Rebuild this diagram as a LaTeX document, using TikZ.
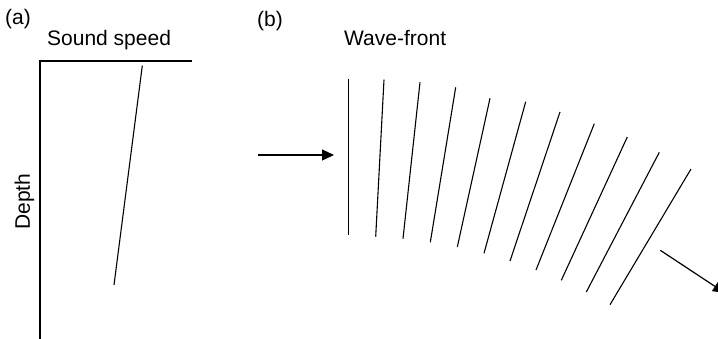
\documentclass[tikz,border=0pt]{standalone}
\usepackage{fontspec}
\setmainfont{Liberation Sans}
\usetikzlibrary{arrows.meta}
\begin{document}
\begin{tikzpicture}[x=1pt,y=-1pt,
  lbl/.style={inner sep=0pt,font=\fontsize{21}{24}\selectfont,anchor=base west},
  axisline/.style={line width=1.4pt},
  profile/.style={line width=1.1pt},
  front/.style={line width=1.1pt},
  ray/.style={line width=1.2pt,-{Triangle[length=12pt,width=11pt]}}]
\useasboundingbox (0,0) rectangle (718,339);

% ---- (a) sound-speed profile ----
\node[lbl] (la) at (5,25) {(a)};
\node[lbl] (ss) at (47,46) {Sound speed};
\node[lbl,rotate=90] (dp) at (30,230) {Depth};
\coordinate (o) at (40,61);
\coordinate (xe) at (192,61);
\coordinate (ye) at (40,345);
\draw[axisline] (xe) -- (o) -- (ye);
\coordinate (p1) at (142.3,65.7);
\coordinate (p2) at (114,285);
\draw[profile] (p1) -- (p2);

% ---- (b) refracting wave-fronts ----
\node[lbl] (lb) at (257,26.5) {(b)};
\node[lbl] (wf) at (344,46) {Wave-front};
\coordinate (in0) at (258,155);
\coordinate (in1) at (334,155);
\draw[ray] (in0) -- (in1);

\foreach \i/\tx/\ty/\bx/\by in {
  1/348.3/78.7/348.3/235.3,
  2/384/79.7/375.7/236.7,
  3/420/82.3/403/238.7,
  4/455.7/87.3/430.3/242.3,
  5/490/98.3/457.3/247,
  6/525.7/101.7/484/253.3,
  7/560/112/510/261,
  8/594.3/123.7/536/270,
  9/627.3/137/561.3/280.3,
  10/659.3/152.3/586.3/292,
  11/691/169/610/304.7}{
  \coordinate (t\i) at (\tx,\ty);
  \coordinate (b\i) at (\bx,\by);
  \draw[front] (t\i) -- (b\i);
}

\coordinate (out0) at (660.3,250.3);
\coordinate (out1) at (725,293);
\draw[ray] (out0) -- (out1);
\end{tikzpicture}
\end{document}
